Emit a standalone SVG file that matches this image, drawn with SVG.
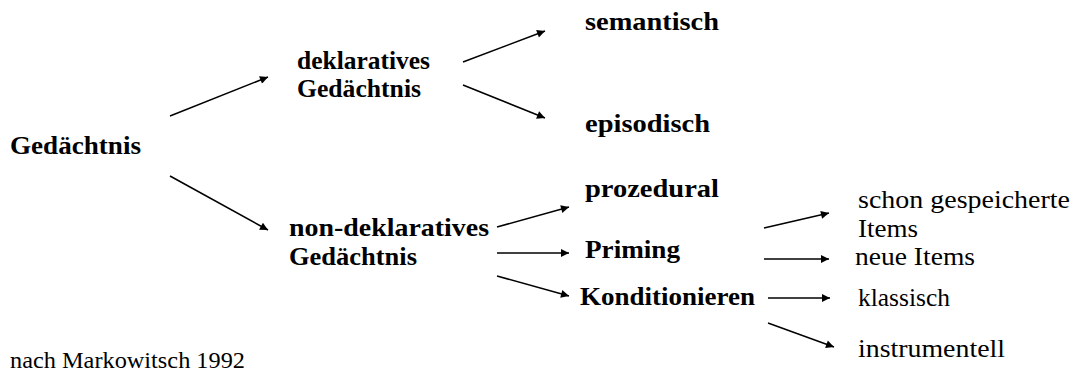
<svg xmlns="http://www.w3.org/2000/svg" width="1077" height="378" viewBox="0 0 1077 378">
<defs>
<marker id="ah" viewBox="0 0 10 10" refX="10" refY="5" markerWidth="11" markerHeight="8" markerUnits="userSpaceOnUse" orient="auto">
<path d="M0,0 L10,5 L0,10 z" fill="#000"/>
</marker>
<style>
.b{font-family:"Liberation Serif","Times New Roman",serif;font-weight:bold;font-size:26px;fill:#000}
.r{font-family:"Liberation Serif","Times New Roman",serif;font-size:26px;fill:#000}
.n{font-family:"Liberation Serif","Times New Roman",serif;font-size:24px;fill:#000}
.c{stroke:#000;stroke-width:1.5;fill:none;marker-end:url(#ah)}
</style>
</defs>
<rect width="1077" height="378" fill="#fff"/>
<g id="connectors">
<line class="c" x1="170" y1="116" x2="268" y2="77"/>
<line class="c" x1="170" y1="176" x2="268" y2="230"/>
<line class="c" x1="463" y1="62" x2="545" y2="31"/>
<line class="c" x1="463" y1="85" x2="545" y2="118"/>
<line class="c" x1="497" y1="227" x2="569" y2="207"/>
<line class="c" x1="497" y1="253" x2="569" y2="253"/>
<line class="c" x1="497" y1="276" x2="569" y2="296"/>
<line class="c" x1="764" y1="228" x2="829" y2="213"/>
<line class="c" x1="764" y1="259" x2="829" y2="259"/>
<line class="c" x1="768" y1="298" x2="830" y2="298"/>
<line class="c" x1="768" y1="323" x2="834" y2="347"/>
</g>
<g id="n-gedaechtnis"><text class="b" x="10" y="154" textLength="131" lengthAdjust="spacingAndGlyphs">Gedächtnis</text></g>
<g id="n-deklarativ"><text class="b" x="297" y="69" textLength="133" lengthAdjust="spacingAndGlyphs">deklaratives</text><text class="b" x="297" y="97" textLength="124" lengthAdjust="spacingAndGlyphs">Gedächtnis</text></g>
<g id="n-semantisch"><text class="b" x="585" y="30" textLength="134" lengthAdjust="spacingAndGlyphs">semantisch</text></g>
<g id="n-episodisch"><text class="b" x="585" y="132" textLength="125" lengthAdjust="spacingAndGlyphs">episodisch</text></g>
<g id="n-nondeklarativ"><text class="b" x="289" y="236" textLength="200" lengthAdjust="spacingAndGlyphs">non-deklaratives</text><text class="b" x="289" y="265" textLength="128" lengthAdjust="spacingAndGlyphs">Gedächtnis</text></g>
<g id="n-prozedural"><text class="b" x="585" y="197" textLength="134" lengthAdjust="spacingAndGlyphs">prozedural</text></g>
<g id="n-priming"><text class="b" x="585" y="258" textLength="95" lengthAdjust="spacingAndGlyphs">Priming</text></g>
<g id="n-konditionieren"><text class="b" x="580" y="305" textLength="175" lengthAdjust="spacingAndGlyphs">Konditionieren</text></g>
<g id="n-schon"><text class="r" x="858" y="208" textLength="212" lengthAdjust="spacingAndGlyphs">schon gespeicherte</text><text class="r" x="858" y="237" textLength="60" lengthAdjust="spacingAndGlyphs">Items</text></g>
<g id="n-neue"><text class="r" x="855" y="265" textLength="120" lengthAdjust="spacingAndGlyphs">neue Items</text></g>
<g id="n-klassisch"><text class="r" x="858" y="306" textLength="92" lengthAdjust="spacingAndGlyphs">klassisch</text></g>
<g id="n-instrumentell"><text class="r" x="858" y="357" textLength="147" lengthAdjust="spacingAndGlyphs">instrumentell</text></g>
<g id="note"><text class="n" x="10" y="368" textLength="235" lengthAdjust="spacingAndGlyphs">nach Markowitsch 1992</text></g>
</svg>
